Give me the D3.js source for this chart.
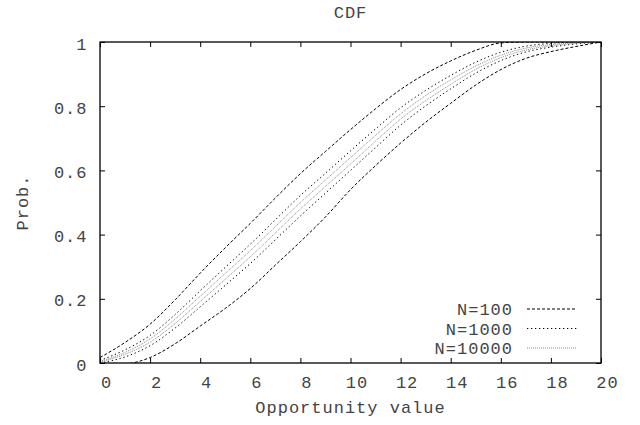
<!DOCTYPE html>
<html>
<head>
<meta charset="utf-8">
<script src="https://cdn.jsdelivr.net/npm/d3@7"></script>
<style>
  html, body { margin: 0; padding: 0; background: #fff; }
  svg { display: block; }
  text { font-family: "Courier New", "Nimbus Mono PS", "Liberation Mono", monospace; fill: #444; letter-spacing: 1px; }
</style>
</head>
<body>
<svg id="chart" width="640" height="425"></svg>
<script>
// Sample points along the opportunity-value axis
const xValues = [0, 1, 2, 3, 4, 5, 6, 7, 8, 9, 10, 11, 12, 13, 14, 15, 16, 17, 18, 19, 20];

// Upper / lower CDF bands for each sample size
const n100Upper = [0.017, 0.064, 0.121, 0.197, 0.280, 0.359, 0.435, 0.514, 0.590, 0.659, 0.727, 0.792, 0.852, 0.901, 0.941, 0.974, 0.997, 1.000, 1.000, 1.000, 1.000];
const n100Lower = [-0.009, -0.004, 0.017, 0.060, 0.115, 0.170, 0.232, 0.305, 0.378, 0.455, 0.540, 0.615, 0.685, 0.750, 0.809, 0.866, 0.914, 0.949, 0.970, 0.986, 1.000];
const n1000Upper = [0.008, 0.041, 0.086, 0.151, 0.225, 0.298, 0.370, 0.446, 0.522, 0.591, 0.661, 0.729, 0.795, 0.849, 0.896, 0.937, 0.968, 0.987, 0.996, 1.000, 1.000];
const n1000Lower = [0.000, 0.019, 0.054, 0.109, 0.175, 0.242, 0.310, 0.384, 0.458, 0.529, 0.600, 0.671, 0.741, 0.801, 0.854, 0.903, 0.942, 0.969, 0.984, 0.994, 1.000];
const n10000Upper = [0.005, 0.033, 0.075, 0.137, 0.208, 0.279, 0.350, 0.425, 0.500, 0.570, 0.640, 0.709, 0.776, 0.833, 0.882, 0.925, 0.959, 0.981, 0.992, 0.998, 1.000];
const n10000Lower = [0.003, 0.027, 0.065, 0.123, 0.192, 0.261, 0.331, 0.405, 0.480, 0.550, 0.620, 0.691, 0.760, 0.817, 0.868, 0.915, 0.951, 0.975, 0.988, 0.996, 1.000];

const seriesNames = ["N=100", "N=1000", "N=10000"];
const xTicks = [0, 2, 4, 6, 8, 10, 12, 14, 16, 18, 20];
const yTicks = [0, 0.2, 0.4, 0.6, 0.8, 1];
const yTickLabels = ["0", "0.2", "0.4", "0.6", "0.8", "1"];

const styles = [
  { stroke: "#000", dash: "3,2", width: 1 },
  { stroke: "#000", dash: "1.3,2.7", width: 1 },
  { stroke: "#8a8a8a", dash: "1,1", width: 1 }
];

const series = [
  { name: seriesNames[0], bands: [n100Upper, n100Lower], style: styles[0] },
  { name: seriesNames[1], bands: [n1000Upper, n1000Lower], style: styles[1] },
  { name: seriesNames[2], bands: [n10000Upper, n10000Lower], style: styles[2] }
];

const svg = d3.select("#chart");
const plotLeft = 100, plotRight = 601, plotTop = 42, plotBottom = 363;

const x = d3.scaleLinear().domain([0, 20]).range([plotLeft, plotRight]);
const y = d3.scaleLinear().domain([0, 1]).range([plotBottom, plotTop]);

svg.append("defs").append("clipPath").attr("id", "plotClip")
  .append("rect").attr("x", plotLeft).attr("y", plotTop)
  .attr("width", plotRight - plotLeft).attr("height", plotBottom - plotTop);

// Curves
const line = d3.line()
  .x((d, i) => x(xValues[i]))
  .y(d => y(d))
  .curve(d3.curveMonotoneX);

const plot = svg.append("g").attr("clip-path", "url(#plotClip)");
series.forEach(s => {
  s.bands.forEach(band => {
    plot.append("path")
      .datum(band)
      .attr("d", line)
      .attr("fill", "none")
      .attr("stroke", s.style.stroke)
      .attr("stroke-width", s.style.width)
      .attr("stroke-dasharray", s.style.dash);
  });
});

// Axes with inward ticks on all four sides
const tickLen = 5;
const fontSize = 17;

const gx = svg.append("g").attr("transform", `translate(0,${plotBottom})`)
  .call(d3.axisBottom(x).tickValues(xTicks).tickSize(-tickLen).tickPadding(13).tickFormat(d3.format("d")));
gx.selectAll("text").attr("x", 6).style("font-size", fontSize + "px");

const gy = svg.append("g").attr("transform", `translate(${plotLeft},0)`)
  .call(d3.axisLeft(y).tickValues(yTicks).tickSize(-tickLen).tickPadding(12.5)
    .tickFormat((d, i) => yTickLabels[i]));
gy.selectAll("text").attr("dy", "0.42em").style("font-size", fontSize + "px");

svg.append("g").attr("transform", `translate(0,${plotTop})`)
  .call(d3.axisTop(x).tickValues(xTicks).tickSize(-tickLen).tickFormat(""));
svg.append("g").attr("transform", `translate(${plotRight},0)`)
  .call(d3.axisRight(y).tickValues(yTicks).tickSize(-tickLen).tickFormat(""));

svg.selectAll(".domain").remove();
svg.selectAll(".tick line").attr("stroke", "#000").attr("stroke-width", 1);
svg.selectAll(".tick text").attr("fill", "#444");
svg.selectAll("g").attr("font-family", null);

// Border
svg.append("rect")
  .attr("x", plotLeft).attr("y", plotTop)
  .attr("width", plotRight - plotLeft).attr("height", plotBottom - plotTop)
  .attr("fill", "none").attr("stroke", "#000").attr("stroke-width", 1.3);

// Titles
svg.append("text").attr("x", (plotLeft + plotRight) / 2).attr("y", 18)
  .attr("text-anchor", "middle").style("font-size", fontSize + "px").text("CDF");
svg.append("text").attr("x", (plotLeft + plotRight) / 2).attr("y", 413)
  .attr("text-anchor", "middle").style("font-size", fontSize + "px").text("Opportunity value");
svg.append("text")
  .attr("transform", `translate(28,${(plotTop + plotBottom) / 2}) rotate(-90)`)
  .attr("text-anchor", "middle").style("font-size", fontSize + "px").text("Prob.");

// Legend
const legendRowY = d3.scalePoint().domain(seriesNames).range([309, 348]);
const legend = svg.append("g");
series.forEach(s => {
  const yy = legendRowY(s.name);
  legend.append("text").attr("x", 513).attr("y", yy).attr("dy", "0.36em")
    .attr("text-anchor", "end").style("font-size", fontSize + "px").text(s.name);
  legend.append("line").attr("x1", 527).attr("x2", 577).attr("y1", yy).attr("y2", yy)
    .attr("stroke", s.style.stroke).attr("stroke-width", s.style.width)
    .attr("stroke-dasharray", s.style.dash);
});
</script>
</body>
</html>
